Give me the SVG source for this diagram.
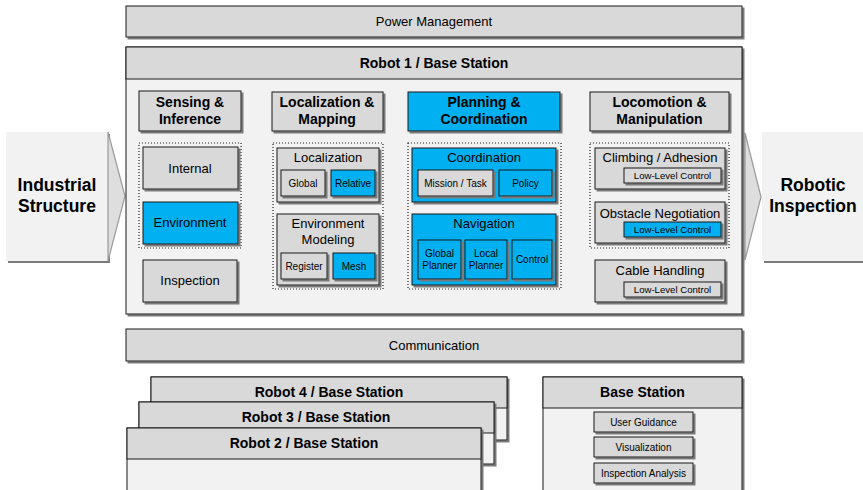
<svg xmlns="http://www.w3.org/2000/svg" width="863" height="490" viewBox="0 0 863 490">
<defs>
<filter id="sh" x="-5%" y="-5%" width="115%" height="130%"><feDropShadow dx="2" dy="2" stdDeviation="0.4" flood-color="#7a7a7a" flood-opacity="1"/></filter>
</defs>
<style>
text{font-family:"Liberation Sans",Arial,sans-serif;fill:#000;text-anchor:middle}
.g{fill:#d9d9d9;stroke:#1a1a1a;stroke-width:1;filter:url(#sh)}
.b{fill:#00b0f0;stroke:#1a1a1a;stroke-width:1;filter:url(#sh)}
.l{fill:#f2f2f2;stroke:#1a1a1a;stroke-width:1;filter:url(#sh)}
.hd{fill:#d9d9d9;stroke:#1a1a1a;stroke-width:1}
.dot{fill:none;stroke:#222;stroke-width:1.2;stroke-dasharray:1 2}
.h{font-size:14px;font-weight:bold}
.big{font-size:17.5px;font-weight:bold}
.t{font-size:13px}
.s{font-size:10px}
.xs{font-size:9.6px}
.tip{fill:#dedede;stroke:#9a9a9a;stroke-width:1.2}
</style>
<rect width="863" height="490" fill="#fff"/>

<g id="industrial-structure">
<rect x="6" y="132" width="102" height="129" fill="#f2f2f2" filter="url(#sh)"/>
<polygon class="tip" points="108,132 125,196 108,261"/>
<text class="big" x="57" y="191">Industrial</text>
<text class="big" x="57" y="212">Structure</text>
</g>

<g id="robotic-inspection">
<polygon class="tip" points="745,133 761,197 745,260"/>
<rect x="762" y="132" width="110" height="129" fill="#f2f2f2" filter="url(#sh)"/>
<text class="big" x="813" y="191">Robotic</text>
<text class="big" x="813" y="212">Inspection</text>
</g>

<g id="power-management">
<rect class="g" x="126" y="6" width="616" height="31"/>
<text class="t" x="434" y="26">Power Management</text>
</g>

<g id="robot1">
<rect class="l" x="126" y="47" width="616" height="267"/>
<rect class="hd" x="126" y="47" width="616" height="32"/>
<text class="h" x="434" y="68">Robot 1 / Base Station</text>
</g>

<g id="sensing-inference">
<rect class="g" x="139" y="91" width="102" height="40"/>
<text class="h" x="190" y="107">Sensing &amp;</text>
<text class="h" x="190" y="124">Inference</text>
<rect class="dot" x="139" y="143" width="102" height="105"/>
</g>
<g id="internal"><rect class="g" x="143" y="147" width="95" height="42"/><text class="t" x="190" y="173">Internal</text></g>
<g id="environment"><rect class="b" x="143" y="202" width="95" height="42"/><text class="t" x="190" y="227">Environment</text></g>
<g id="inspection"><rect class="g" x="143" y="260" width="94" height="42"/><text class="t" x="190" y="285">Inspection</text></g>

<g id="localization-mapping">
<rect class="g" x="272" y="92" width="111" height="39"/>
<text class="h" x="327" y="107">Localization &amp;</text>
<text class="h" x="327" y="124">Mapping</text>
<rect class="dot" x="273" y="143" width="110" height="146"/>
</g>
<g id="localization">
<rect class="g" x="277" y="148" width="102" height="54"/>
<text class="t" x="328" y="162">Localization</text>
<rect class="g" x="281" y="170" width="44" height="26"/><text class="s" x="303" y="187">Global</text>
<rect class="b" x="331" y="170" width="44" height="26"/><text class="s" x="353" y="187">Relative</text>
</g>
<g id="environment-modeling">
<rect class="g" x="277" y="214" width="102" height="71"/>
<text class="t" x="328" y="228">Environment</text>
<text class="t" x="328" y="244">Modeling</text>
<rect class="g" x="281" y="253" width="46" height="26"/><text class="s" x="304" y="270">Register</text>
<rect class="b" x="333" y="253" width="42" height="26"/><text class="s" x="354" y="270">Mesh</text>
</g>

<g id="planning-coordination">
<rect class="b" x="408" y="92" width="152" height="39"/>
<text class="h" x="484" y="107">Planning &amp;</text>
<text class="h" x="484" y="124">Coordination</text>
<rect class="dot" x="408" y="143" width="153" height="146"/>
</g>
<g id="coordination">
<rect class="b" x="412" y="148" width="144" height="54"/>
<text class="t" x="484" y="162">Coordination</text>
<rect class="g" x="418" y="170" width="75" height="26"/><text class="s" x="455.5" y="187">Mission / Task</text>
<rect class="b" x="499" y="170" width="53" height="26"/><text class="s" x="525.5" y="187">Policy</text>
</g>
<g id="navigation">
<rect class="b" x="412" y="214" width="144" height="71"/>
<text class="t" x="484" y="228">Navigation</text>
<rect class="b" x="418" y="240" width="43" height="39"/><text class="s" x="439.5" y="257">Global</text><text class="s" x="439.5" y="269">Planner</text>
<rect class="b" x="465" y="240" width="42" height="39"/><text class="s" x="486" y="257">Local</text><text class="s" x="486" y="269">Planner</text>
<rect class="b" x="512" y="240" width="40" height="39"/><text class="s" x="532" y="263">Control</text>
</g>

<g id="locomotion-manipulation">
<rect class="g" x="590" y="92" width="139" height="39"/>
<text class="h" x="659.5" y="107">Locomotion &amp;</text>
<text class="h" x="659.5" y="124">Manipulation</text>
<rect class="dot" x="590" y="143" width="139" height="105"/>
</g>
<g id="climbing-adhesion">
<rect class="g" x="595" y="148" width="130" height="41"/>
<text class="t" x="660" y="162">Climbing / Adhesion</text>
<rect class="g" x="624" y="168" width="97" height="15"/><text class="xs" x="672.5" y="179">Low-Level Control</text>
</g>
<g id="obstacle-negotiation">
<rect class="g" x="595" y="202" width="130" height="41"/>
<text class="t" x="660" y="218">Obstacle Negotiation</text>
<rect class="b" x="624" y="222" width="97" height="15"/><text class="xs" x="672.5" y="233">Low-Level Control</text>
</g>
<g id="cable-handling">
<rect class="g" x="595" y="260" width="130" height="42"/>
<text class="t" x="660" y="275">Cable Handling</text>
<rect class="g" x="624" y="282" width="97" height="15"/><text class="xs" x="672.5" y="293">Low-Level Control</text>
</g>

<g id="communication">
<rect class="g" x="126" y="329" width="616" height="32"/>
<text class="t" x="434" y="350">Communication</text>
</g>

<g id="robot4">
<rect class="l" x="151" y="377" width="356" height="63"/>
<rect class="hd" x="151" y="377" width="356" height="31"/>
<text class="h" x="329" y="397">Robot 4 / Base Station</text>
</g>
<g id="robot3">
<rect class="l" x="139" y="402" width="355" height="62"/>
<rect class="hd" x="139" y="402" width="355" height="31"/>
<text class="h" x="316" y="422">Robot 3 / Base Station</text>
</g>
<g id="robot2">
<rect class="l" x="127" y="428" width="354" height="70"/>
<rect class="hd" x="127" y="428" width="354" height="31"/>
<text class="h" x="304" y="448">Robot 2 / Base Station</text>
</g>

<g id="base-station">
<rect class="l" x="543" y="377" width="199" height="121"/>
<rect class="hd" x="543" y="377" width="199" height="31"/>
<text class="h" x="642.5" y="397">Base Station</text>
<rect class="g" x="594" y="412" width="99" height="20"/><text class="s" x="643.5" y="426">User Guidance</text>
<rect class="g" x="594" y="437" width="99" height="20"/><text class="s" x="643.5" y="451">Visualization</text>
<rect class="g" x="594" y="463" width="99" height="20"/><text class="s" x="643.5" y="477">Inspection Analysis</text>
</g>

<g id="connectors"></g>
</svg>
